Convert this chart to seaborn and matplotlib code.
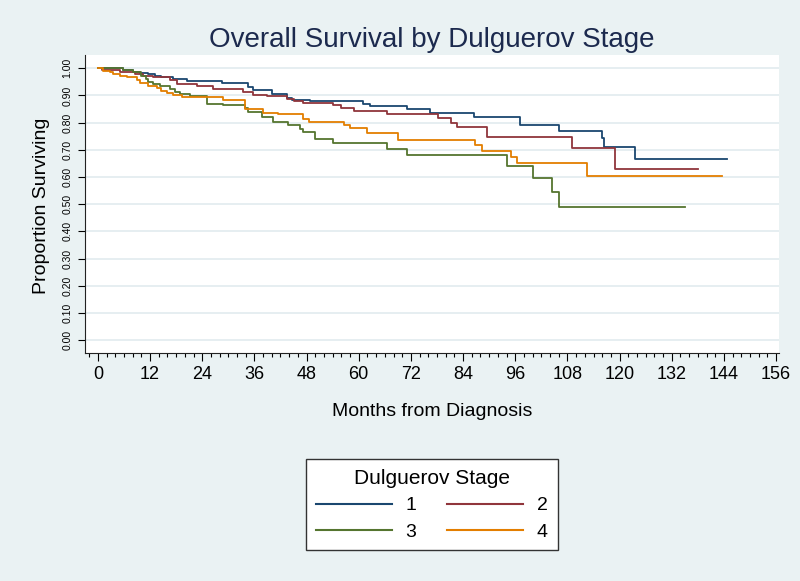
import pandas as pd
import matplotlib
matplotlib.use('Agg')
import matplotlib.pyplot as plt
from matplotlib.ticker import MultipleLocator, FormatStrFormatter
import seaborn as sns

# Kaplan-Meier step points (months, proportion surviving)
stages = ['1', '2', '3', '4']
stage_colors = ['#1A476F', '#90353B', '#55752F', '#E37E00']

stage1_months = [0, 5.8, 8.1, 9.7, 11.6, 13.1, 14.6, 17.3, 20.4, 28.5, 34.5, 35.7, 40.0,
                 43.4, 44.6, 48.8, 61.0, 62.7, 71.0, 76.5, 86.6, 97.0, 106.0, 116.0,
                 116.5, 123.6, 144.7]
stage1_surv = [1.0, 0.995, 0.988, 0.983, 0.978, 0.973, 0.968, 0.961, 0.954, 0.947, 0.931,
               0.919, 0.907, 0.891, 0.882, 0.878, 0.868, 0.86, 0.85, 0.835, 0.82, 0.79,
               0.77, 0.745, 0.71, 0.667, 0.667]

stage2_months = [0, 1.0, 5.0, 8.5, 10.4, 12.7, 16.6, 18.1, 22.7, 26.5, 33.4, 35.6, 38.8,
                 43.4, 45.0, 47.2, 54.0, 56.0, 59.0, 66.6, 78.3, 81.3, 82.5, 89.6, 109.0,
                 119.0, 138.0]
stage2_surv = [1.0, 0.993, 0.987, 0.98, 0.973, 0.967, 0.955, 0.942, 0.934, 0.925, 0.911,
               0.903, 0.898, 0.886, 0.879, 0.874, 0.864, 0.853, 0.843, 0.83, 0.817, 0.80,
               0.784, 0.748, 0.707, 0.63, 0.63]

stage3_months = [0, 5.8, 8.1, 10.0, 11.0, 11.6, 12.7, 14.2, 16.6, 17.7, 18.9, 21.2, 25.0,
                 28.8, 33.8, 34.5, 37.7, 40.3, 43.7, 46.5, 47.2, 50.0, 54.0, 66.6, 71.2,
                 94.0, 100.0, 104.5, 106.0, 135.0]
stage3_surv = [1.0, 0.995, 0.985, 0.973, 0.961, 0.951, 0.942, 0.934, 0.924, 0.914, 0.906,
               0.898, 0.87, 0.864, 0.852, 0.84, 0.821, 0.803, 0.79, 0.778, 0.766, 0.74,
               0.725, 0.703, 0.68, 0.64, 0.597, 0.545, 0.49, 0.49]

stage4_months = [0, 1.2, 2.7, 3.5, 5.0, 6.6, 8.9, 9.7, 11.6, 13.5, 14.6, 15.8, 17.3, 19.3,
                 28.8, 33.8, 38.0, 41.5, 47.2, 48.5, 56.5, 58.0, 62.0, 69.0, 86.8, 88.4,
                 95.0, 96.5, 112.5, 143.6]
stage4_surv = [1.0, 0.991, 0.985, 0.979, 0.973, 0.967, 0.955, 0.946, 0.936, 0.926, 0.918,
               0.909, 0.902, 0.895, 0.885, 0.85, 0.837, 0.83, 0.815, 0.803, 0.79, 0.78,
               0.762, 0.736, 0.718, 0.696, 0.674, 0.652, 0.605, 0.605]

x_ticks = list(range(0, 157, 12))

frames = []
for stage, months, surv in zip(stages,
                               [stage1_months, stage2_months, stage3_months, stage4_months],
                               [stage1_surv, stage2_surv, stage3_surv, stage4_surv]):
    frames.append(pd.DataFrame({'months': months, 'surv': surv, 'stage': stage}))
df = pd.concat(frames, ignore_index=True)

plt.rcParams['font.family'] = ['Liberation Sans', 'DejaVu Sans']

bg = '#EAF2F3'
fig = plt.figure(figsize=(8, 5.81), dpi=100, facecolor=bg)
ax = fig.add_axes([0.106, 0.392, 0.868, 0.513])
ax.set_facecolor('white')

sns.lineplot(data=df, x='months', y='surv', hue='stage', hue_order=stages,
             palette=dict(zip(stages, stage_colors)), estimator=None, errorbar=None,
             drawstyle='steps-post', linewidth=1.3, ax=ax)

ax.set_xlim(-3.0, 156.7)
ax.set_ylim(-0.048, 1.048)

ax.set_xticks(x_ticks)
ax.xaxis.set_minor_locator(MultipleLocator(2))
ax.yaxis.set_major_locator(MultipleLocator(0.1))
ax.yaxis.set_major_formatter(FormatStrFormatter('%.2f'))

ax.tick_params(axis='x', which='major', length=6, width=0.8, pad=3.5, labelsize=13)
ax.tick_params(axis='x', which='minor', length=3, width=0.8)
ax.tick_params(axis='y', which='major', length=5, width=0.8, pad=4, labelsize=7.5)
for lab in ax.get_yticklabels():
    lab.set_rotation(90)
    lab.set_va('center')

ax.yaxis.grid(True, color='#E4EDF0', linewidth=1.3)
ax.xaxis.grid(False)
ax.set_axisbelow(True)
ax.yaxis.get_gridlines()[0].set_visible(False)

for side in ['top', 'right']:
    ax.spines[side].set_visible(False)
for side in ['left', 'bottom']:
    ax.spines[side].set_color('#222222')
    ax.spines[side].set_linewidth(0.8)

ax.set_xlabel('')
ax.set_ylabel('')
fig.text(0.54, 0.919, 'Overall Survival by Dulguerov Stage', ha='center', va='baseline',
         fontsize=20, color='#1c2a4e')
fig.text(0.0525, 0.645, 'Proportion Surviving', rotation=90, ha='center', va='center',
         fontsize=14)
fig.text(0.54, 0.291, 'Months from Diagnosis', ha='center', va='center', fontsize=14)

# legend filled row by row: 1 2 / 3 4
handles, labels = ax.get_legend_handles_labels()
ax.get_legend().remove()
order = [0, 2, 1, 3]
leg = fig.legend([handles[i] for i in order], [labels[i] for i in order],
                 loc='center', bbox_to_anchor=(0.54, 0.131), ncol=2,
                 title='Dulguerov Stage', fontsize=14, title_fontsize=15,
                 frameon=True, fancybox=False, handlelength=3.9, handletextpad=0.7,
                 columnspacing=1.6, labelspacing=0.45, borderpad=0.5)
leg.get_frame().set_edgecolor('#333333')
leg.get_frame().set_linewidth(1.0)
leg.get_frame().set_facecolor('white')
leg.get_frame().set_alpha(1)
for line in leg.get_lines():
    line.set_linewidth(1.5)

fig.savefig('out.png', dpi=100, facecolor=bg)
